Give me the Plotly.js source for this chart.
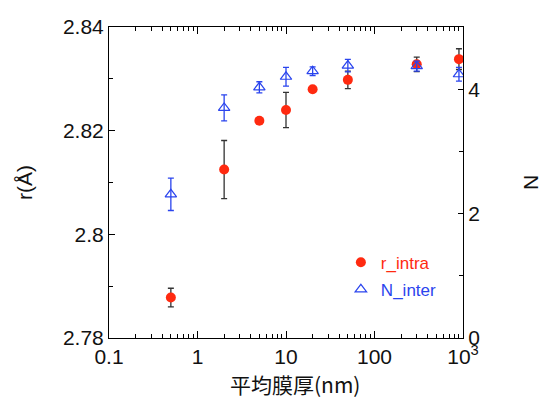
<!DOCTYPE html>
<html>
<head>
<meta charset="utf-8">
<script src="https://cdn.plot.ly/plotly-3.0.1.min.js"></script>
<style>html,body{margin:0;padding:0;background:#fff;}#chart{width:542px;height:399px;}</style>
</head>
<body>
<div id="chart"></div>
<script>
// Data
const thickness = [0.5, 2, 5, 10, 20, 50, 300, 900];           // 平均膜厚 (nm)
const rIntra    = [2.7878, 2.8125, 2.8219, 2.8240, 2.8280, 2.8298, 2.8328, 2.8338];
const rIntraErr = [0.0018, 0.0056, 0.0003, 0.0034, 0.0005, 0.0017, 0.0014, 0.0020];
const nInter    = [2.31, 3.70, 4.03, 4.20, 4.29, 4.38, 4.37, 4.24];
const nInterErr = [0.26, 0.21, 0.09, 0.15, 0.07, 0.10, 0.08, 0.11];
const xTickVals = [0.1, 1, 10, 100, 1000];
const xTickText = ['0.1', '1', '10', '100', '10<sup>3</sup>'];
const seriesNames = ['r_intra', 'N_inter'];
const xTitle = '平均膜厚(nm)';

const RED = '#ff2a10';
const BLUE = '#2a44ee';
const tickFont = {family: 'Liberation Sans, Arial, sans-serif', size: 21, color: '#111'};
const titleFont = {family: 'Liberation Sans, Arial, sans-serif', size: 21, color: '#111'};

const traces = [
  {
    x: thickness, y: rIntra, yaxis: 'y', type: 'scatter', mode: 'markers',
    name: '<span style="color:' + RED + '">' + seriesNames[0] + '</span>',
    marker: {symbol: 'circle', size: 10, color: RED},
    error_y: {type: 'data', array: rIntraErr, visible: true, color: '#333', thickness: 1.3, width: 3},
    legendgroup: 'a'
  },
  {
    x: thickness, y: nInter, yaxis: 'y2', type: 'scatter', mode: 'markers',
    name: '<span style="color:' + BLUE + '">' + seriesNames[1] + '</span>',
    marker: {symbol: 'triangle-up-open', size: 10, color: BLUE, line: {width: 1.2, color: BLUE}},
    error_y: {type: 'data', array: nInterErr, visible: true, color: BLUE, thickness: 1.3, width: 3},
    legendgroup: 'b'
  }
];

const layout = {
  width: 542, height: 399,
  margin: {l: 109, r: 79, t: 27, b: 61},
  paper_bgcolor: '#fff', plot_bgcolor: '#fff',
  showlegend: true,
  legend: {
    x: 0.655, y: 0.30, xanchor: 'left', yanchor: 'top',
    bgcolor: 'rgba(0,0,0,0)', borderwidth: 0,
    font: {family: 'Liberation Sans, Arial, sans-serif', size: 17},
    traceorder: 'grouped', tracegroupgap: 2
  },
  xaxis: {
    type: 'log', range: [-1, 3],
    tickvals: xTickVals, ticktext: xTickText,
    ticks: 'inside', ticklen: 7, tickwidth: 1, tickcolor: '#000',
    minor: {ticks: 'inside', ticklen: 4, tickwidth: 1, tickcolor: '#000', dtick: 'D1', showgrid: false},
    showline: true, linecolor: '#000', linewidth: 1, mirror: 'ticks',
    showgrid: false, zeroline: false,
    tickfont: tickFont
  },
  yaxis: {
    range: [2.78, 2.84],
    tickvals: [2.78, 2.80, 2.82, 2.84], ticktext: ['2.78', '2.8', '2.82', '2.84'],
    ticks: 'inside', ticklen: 6, tickwidth: 1, tickcolor: '#000',
    minor: {ticks: 'inside', ticklen: 4, tickwidth: 1, tickcolor: '#000', dtick: 0.01, showgrid: false},
    showline: true, linecolor: '#000', linewidth: 1,
    showgrid: false, zeroline: false,
    tickfont: tickFont,
    title: {text: 'r(Å)', font: titleFont, standoff: 24}
  },
  yaxis2: {
    overlaying: 'y', side: 'right', range: [0, 5],
    tickvals: [0, 2, 4],
    ticks: 'inside', ticklen: 5, tickwidth: 1, tickcolor: '#000',
    minor: {ticks: 'inside', ticklen: 4, tickwidth: 1, tickcolor: '#000', dtick: 1, showgrid: false},
    showline: true, linecolor: '#000', linewidth: 1,
    showgrid: false, zeroline: false,
    tickfont: tickFont,
    title: {text: 'N', font: titleFont, standoff: 46}
  },
  annotations: [{
    text: xTitle, xref: 'paper', yref: 'paper',
    x: 0.525, y: -0.148, xanchor: 'center', yanchor: 'middle', showarrow: false,
    font: {family: 'Noto Sans CJK JP, sans-serif', size: 21, color: '#111'}
  }]
};

Plotly.newPlot('chart', traces, layout, {displayModeBar: false, staticPlot: true});
</script>
</body>
</html>
